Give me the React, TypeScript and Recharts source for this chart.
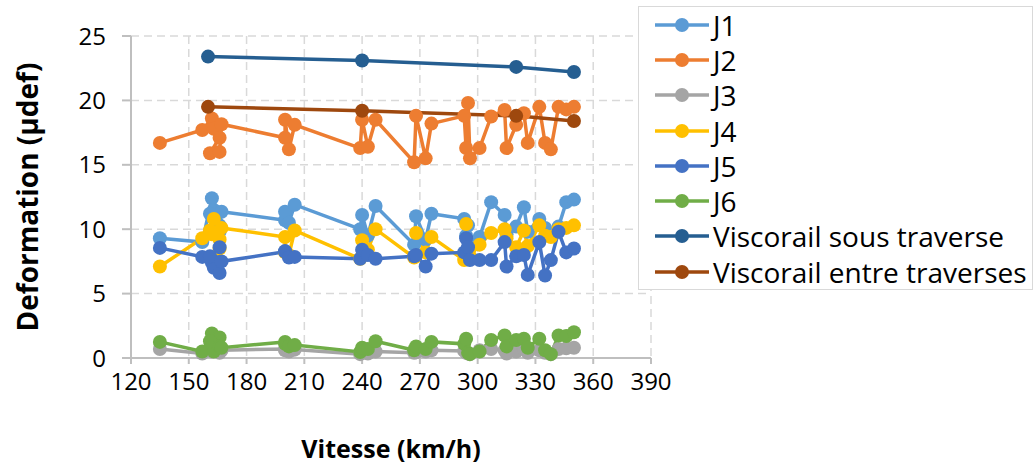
import { CartesianGrid, Line, LineChart, XAxis, YAxis } from "recharts";

// speed (km/h) of each run, in measurement order
const speeds = [
  135, 157, 162, 163, 166, 161, 166, 167, 200, 200, 202, 205, 239, 240, 243,
  247, 267, 268, 273, 276, 293, 294, 295, 296, 301, 307, 314, 315, 320, 324,
  326, 332, 335, 338, 342, 346, 350,
];

const j1 = [
  9.3, 9.0, 12.4, 11.5, 9.8, 11.2, 10.3, 11.35, 10.7, 11.35, 10.5, 11.9, 10.0,
  11.1, 9.5, 11.8, 8.8, 11.0, 9.2, 11.2, 10.8, 9.5, 10.3, 9.0, 9.4, 12.1, 11.1,
  9.6, 10.2, 11.7, 9.8, 10.8, 10.1, 9.6, 10.2, 12.1, 12.3,
];
const j2 = [
  16.7, 17.7, 18.6, 17.8, 17.1, 15.9, 16.0, 18.15, 17.1, 18.5, 16.2, 18.1, 16.3,
  18.5, 16.4, 18.5, 15.2, 18.8, 15.5, 18.2, 18.8, 16.3, 19.8, 15.5, 16.3, 18.75,
  19.25, 16.3, 18.1, 19.0, 16.7, 19.5, 16.7, 16.2, 19.5, 19.3, 19.5,
];
const j3 = [
  0.7, 0.35, 0.5, 0.6, 0.4, 0.7, 0.5, 0.6, 0.7, 0.6, 0.5, 0.65, 0.3, 0.4, 0.35,
  0.5, 0.4, 0.45, 0.5, 0.6, 0.55, 0.4, 0.35, 0.3, 0.6, 0.7, 0.6, 0.35, 0.5, 0.7,
  0.4, 0.6, 0.4, 0.3, 0.7, 0.75, 0.8,
];
const j4 = [
  7.1, 9.3, 9.6, 10.8, 8.5, 9.9, 9.2, 10.1, 9.4, 8.2, 8.0, 9.9, 7.7, 9.15, 8.4,
  10.0, 7.8, 9.7, 8.2, 9.4, 7.6, 10.4, 8.5, 7.9, 8.8, 9.7, 10.0, 9.3, 8.6, 9.9,
  8.7, 10.3, 9.5, 9.4, 10.0, 10.1, 10.3,
];
const j5 = [
  8.55, 7.85, 7.4, 7.0, 8.6, 7.9, 6.6, 7.5, 8.25, 8.3, 7.8, 7.85, 7.7, 8.4, 8.0,
  7.7, 7.9, 8.0, 7.1, 8.1, 8.2, 9.3, 8.6, 7.6, 7.6, 7.6, 9.0, 7.1, 7.9, 8.0,
  6.45, 9.0, 6.4, 7.6, 9.8, 8.2, 8.5,
];
const j6 = [
  1.25, 0.5, 1.9, 0.5, 1.6, 1.3, 0.9, 0.8, 1.25, 1.1, 0.9, 1.0, 0.47, 0.8, 0.7,
  1.3, 0.6, 0.9, 0.7, 1.25, 1.1, 1.5, 0.4, 0.3, 0.5, 1.4, 1.75, 0.9, 1.4, 1.5,
  0.8, 1.5, 0.6, 0.3, 1.75, 1.7, 2.0,
];

const viscorailSpeeds = [160, 240, 320, 350];
const viscorailSous = [23.4, 23.1, 22.6, 22.2];
const viscorailEntre = [19.5, 19.2, 18.8, 18.4];

const xTicks = [120, 150, 180, 210, 240, 270, 300, 330, 360, 390];
const yTicks = [0, 5, 10, 15, 20, 25];

const seriesNames = [
  "J1",
  "J2",
  "J3",
  "J4",
  "J5",
  "J6",
  "Viscorail sous traverse",
  "Viscorail entre traverses",
];
const seriesColors = [
  "#5B9BD5",
  "#ED7D31",
  "#A5A5A5",
  "#FFC000",
  "#4472C4",
  "#70AD47",
  "#255E91",
  "#9E480E",
];

const jauges = [j1, j2, j3, j4, j5, j6];

const jaugeRows = speeds.map((speed, i) => {
  const row: Record<string, number> = { speed };
  jauges.forEach((values, k) => {
    row[seriesNames[k]] = values[i];
  });
  return row;
});

const viscorailRows = viscorailSpeeds.map((speed, i) => ({
  speed,
  [seriesNames[6]]: viscorailSous[i],
  [seriesNames[7]]: viscorailEntre[i],
}));

const font = "'Open Sans', sans-serif";

function ChartLegend() {
  return (
    <div
      style={{
        position: "absolute",
        left: 638,
        top: 6,
        width: 395,
        height: 284,
        background: "#fff",
        border: "1.5px solid #d9d9d9",
        boxSizing: "border-box",
        fontFamily: font,
      }}
    >
      {seriesNames.map((name, i) => (
        <div
          key={name}
          style={{
            display: "flex",
            alignItems: "center",
            height: 35.3,
            fontSize: 28,
            color: "#000",
          }}
        >
          <svg width={74} height={20} style={{ flexShrink: 0 }}>
            <line
              x1={16}
              y1={10}
              x2={70}
              y2={10}
              stroke={seriesColors[i]}
              strokeWidth={3.5}
            />
            <circle cx={43} cy={10} r={7} fill={seriesColors[i]} />
          </svg>
          <span style={{ whiteSpace: "nowrap", lineHeight: 1 }}>{name}</span>
        </div>
      ))}
    </div>
  );
}

export default function App() {
  return (
    <div
      style={{
        position: "absolute",
        left: 0,
        top: 0,
        width: 1035,
        height: 466,
        background: "#fff",
      }}
    >
      <LineChart
        width={1035}
        height={466}
        margin={{ top: 36, right: 384, bottom: 0, left: 0 }}
      >
        <CartesianGrid
          stroke="#d9d9d9"
          strokeWidth={1.5}
          strokeDasharray="8 5"
        />
        <XAxis
          type="number"
          dataKey="speed"
          domain={[120, 390]}
          ticks={xTicks}
          allowDataOverflow
          height={108}
          stroke="#bfbfbf"
          strokeWidth={2}
          tickSize={6}
          tickMargin={9}
          tick={{ fill: "#000", fontSize: 24, fontFamily: font }}
          label={{
            value: "Vitesse (km/h)",
            position: "insideBottom",
            offset: 8,
            style: {
              fill: "#000",
              fontSize: 25,
              fontWeight: 700,
              fontFamily: font,
            },
          }}
        />
        <YAxis
          type="number"
          domain={[0, 25]}
          ticks={yTicks}
          width={131}
          stroke="#bfbfbf"
          strokeWidth={2}
          tickSize={9}
          tickMargin={16}
          tick={{ fill: "#000", fontSize: 24, fontFamily: font }}
          label={{
            value: "Deformation (µdef)",
            angle: -90,
            position: "insideLeft",
            offset: 28,
            style: {
              textAnchor: "middle",
              fill: "#000",
              fontSize: 28,
              fontWeight: 700,
              fontFamily: font,
            },
          }}
        />
        {seriesNames.slice(0, 6).map((name, i) => (
          <Line
            key={name}
            data={jaugeRows}
            dataKey={name}
            stroke={seriesColors[i]}
            strokeWidth={3.5}
            dot={{ r: 7, fill: seriesColors[i], stroke: "none" }}
            activeDot={false}
            isAnimationActive={false}
          />
        ))}
        {seriesNames.slice(6).map((name, i) => (
          <Line
            key={name}
            data={viscorailRows}
            dataKey={name}
            stroke={seriesColors[i + 6]}
            strokeWidth={3.5}
            dot={{ r: 7, fill: seriesColors[i + 6], stroke: "none" }}
            activeDot={false}
            isAnimationActive={false}
          />
        ))}
      </LineChart>
      <ChartLegend />
    </div>
  );
}
